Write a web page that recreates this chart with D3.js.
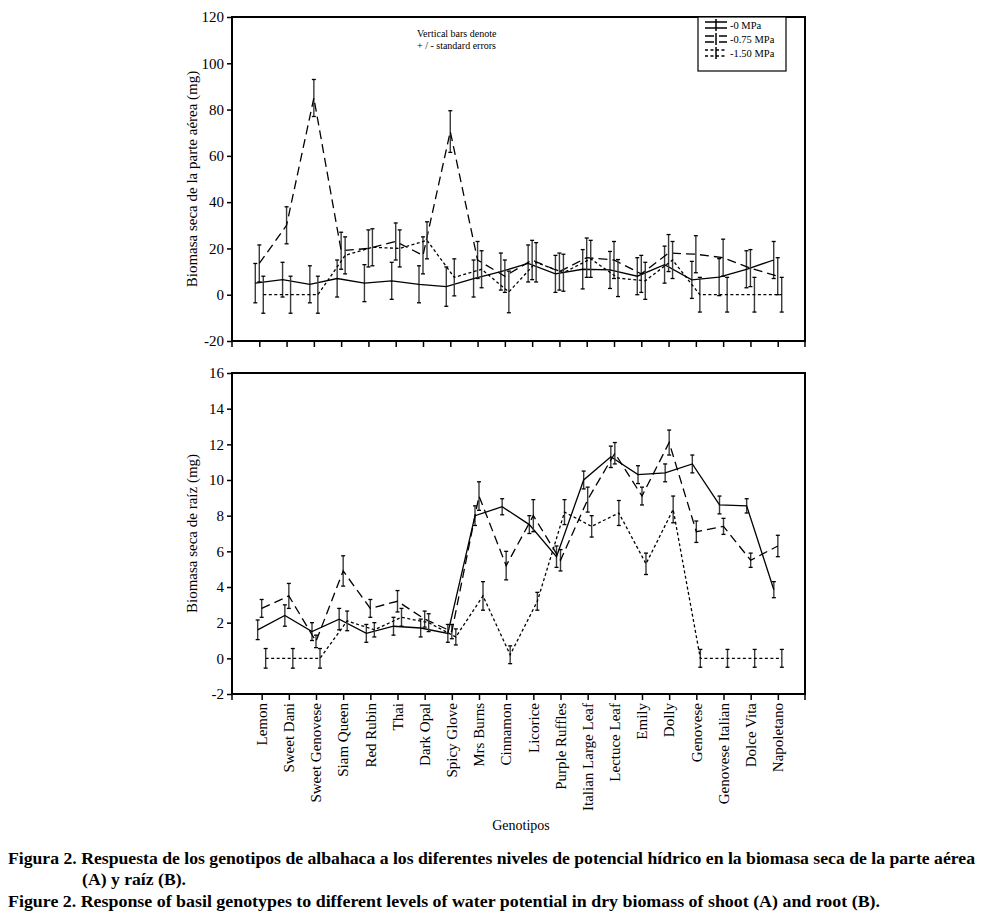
<!DOCTYPE html>
<html><head><meta charset="utf-8">
<script src="https://cdn.jsdelivr.net/npm/d3@7"></script>
<style>
body{margin:0;background:#fff}
svg{display:block}
text{font-family:"Liberation Serif","Times New Roman",serif;fill:#000}
</style>
</head><body>
<svg id="c" width="986" height="924"></svg>
<script>
// ---------------- DATA ----------------
const categories = ["Lemon","Sweet Dani","Sweet Genovese","Siam Queen","Red Rubin","Thai","Dark Opal","Spicy Glove","Mrs Burns","Cinnamon","Licorice","Purple Ruffles","Italian Large Leaf","Lectuce Leaf","Emily","Dolly","Genovese","Genovese Italian","Dolce Vita","Napoletano"];
const seriesNames = ["-0 MPa","-0.75 MPa","-1.50 MPa"];

// (A) shoot dry biomass (mg)
const shoot0   = [5, 6.5, 4.5, 7, 5, 6, 4.5, 3.5, 7, 10, 13.5, 9, 11, 10.7, 8, 13, 6.4, 7.6, 11, 15];
const shoot075 = [13.5, 30, 85, 19, 20, 23, 17, 70.5, 15, 8, 15, 10, 16, 15, 9, 18, 17.5, 16, 11.5, 8];
const shoot150 = [0, 0, 0, 17, 20.5, 20, 23.5, 7.5, 11, 1.2, 14, 9.5, 15.5, 7.2, 6, 15, 0, 0, 0, 0];
const shootSE0   = [8.5, 7.5, 8, 8, 8, 8, 8, 8.5, 8, 8, 8, 8, 8.5, 8, 8, 8, 8, 8, 8, 8];
const shootSE075 = [8, 8, 8, 8, 8, 8, 8, 9, 8, 7, 8.5, 8, 8.5, 8, 8, 8, 8, 8, 8, 8];
const shootSE150 = [8, 8, 8, 8, 8, 8, 8, 8, 8, 9, 8.5, 8, 8, 8, 8, 8, 7.5, 7.5, 7.5, 7.5];
const shootTicks = [-20, 0, 20, 40, 60, 80, 100, 120];

// (B) root dry biomass (mg)
const root0   = [1.6, 2.4, 1.5, 2.2, 1.4, 1.8, 1.7, 1.4, 8.0, 8.5, 7.5, 5.7, 10.0, 11.3, 10.3, 10.4, 10.9, 8.6, 8.55, 3.85];
const root075 = [2.8, 3.5, 0.95, 4.9, 2.8, 3.2, 2.2, 1.5, 9.1, 5.2, 8.0, 5.5, 8.9, 11.5, 9.1, 12.1, 7.1, 7.4, 5.5, 6.3];
const root150 = [0, 0, 0, 2.1, 1.6, 2.3, 2.0, 1.2, 3.5, 0.2, 3.2, 8.2, 7.4, 8.15, 5.3, 8.35, 0, 0, 0, 0];
const rootSE0   = [0.55, 0.6, 0.5, 0.6, 0.5, 0.5, 0.5, 0.5, 0.55, 0.45, 0.5, 0.6, 0.5, 0.6, 0.5, 0.5, 0.5, 0.5, 0.4, 0.45];
const rootSE075 = [0.5, 0.7, 0.35, 0.85, 0.5, 0.6, 0.45, 0.4, 0.8, 0.8, 0.9, 0.6, 0.7, 0.6, 0.5, 0.7, 0.6, 0.45, 0.4, 0.6];
const rootSE150 = [0.55, 0.55, 0.55, 0.55, 0.4, 0.5, 0.5, 0.45, 0.8, 0.5, 0.5, 0.7, 0.6, 0.7, 0.6, 0.75, 0.5, 0.5, 0.5, 0.5];
const rootTicks = [-2, 0, 2, 4, 6, 8, 10, 12, 14, 16];

const axisTitleA = "Biomasa seca de la parte aérea (mg)";
const axisTitleB = "Biomasa seca de raíz (mg)";
const xTitle = "Genotipos";
const noteLines = ["Vertical bars denote", "+ / - standard errors"];
const captionLines = [
  "Figura 2. Respuesta de los genotipos de albahaca a los diferentes niveles de potencial hídrico en la biomasa seca de la parte aérea",
  "(A) y raíz (B).",
  "Figure 2. Response of basil genotypes to different levels of water potential in dry biomass of shoot (A) and root (B)."
];

// ---------------- DRAW ----------------
const svg = d3.select("#c");
const dashes = [null, "9,5", "3,2.5"];
const offsets = [-4, 0, 4];

function panel(cfg) {
  const g = svg.append("g");
  const x = d3.scalePoint().domain(categories).range([cfg.x0, cfg.x1]).padding(1);
  const y = d3.scaleLinear().domain(cfg.domain).range([cfg.y1, cfg.y0]);

  // y axis
  const ya = g.append("g").attr("transform", `translate(${cfg.ax0},0)`)
    .call(d3.axisLeft(y).tickValues(cfg.ticks).tickSize(5).tickPadding(3).tickFormat(d => String(d)));
  ya.select(".domain").remove();
  ya.selectAll(".tick line").attr("stroke", "#000").attr("stroke-width", 1.5);
  ya.selectAll(".tick text").style("font-size", "15px").style("font-family", '"Liberation Serif",serif');

  // x axis ticks
  const xa = g.append("g").attr("transform", `translate(0,${cfg.y1})`)
    .call(d3.axisBottom(x).tickSize(6).tickSizeOuter(0).tickFormat(""));
  xa.select(".domain").remove();
  xa.selectAll(".tick line").attr("stroke", "#000").attr("stroke-width", 1.5);
  g.append("line").attr("x1", cfg.ax0).attr("x2", cfg.ax0).attr("y1", cfg.y1).attr("y2", cfg.y1 + 6).attr("stroke", "#000").attr("stroke-width", 1.5);
  g.append("line").attr("x1", cfg.ax1).attr("x2", cfg.ax1).attr("y1", cfg.y1).attr("y2", cfg.y1 + 6).attr("stroke", "#000").attr("stroke-width", 1.5);

  // series
  cfg.series.forEach((vals, si) => {
    const pts = vals.map((v, i) => ({c: categories[i], v, se: cfg.se[si][i]}));
    const px = d => x(d.c) + offsets[si];
    const eb = g.append("g");
    pts.forEach(d => {
      const xx = px(d), yt = y(d.v + d.se), yb = y(d.v - d.se);
      eb.append("line").attr("x1", xx).attr("x2", xx).attr("y1", yt).attr("y2", yb)
        .attr("stroke", "#3a3a3a").attr("stroke-width", 1.4);
      [yt, yb].forEach(yy => eb.append("line").attr("x1", xx - 2).attr("x2", xx + 2).attr("y1", yy).attr("y2", yy)
        .attr("stroke", "#000").attr("stroke-width", 1.3));
    });
    g.append("path").datum(pts)
      .attr("d", d3.line().x(px).y(d => y(d.v)))
      .attr("fill", "none").attr("stroke", "#000").attr("stroke-width", 1.3)
      .attr("stroke-dasharray", dashes[si]);
  });

  // frame
  g.append("rect").attr("x", cfg.ax0).attr("y", cfg.y0).attr("width", cfg.ax1 - cfg.ax0).attr("height", cfg.y1 - cfg.y0)
    .attr("fill", "none").attr("stroke", "#000").attr("stroke-width", 2);

  // y title
  g.append("text").attr("transform", `translate(${cfg.titleX},${(cfg.y0 + cfg.y1) / 2}) rotate(-90)`)
    .attr("text-anchor", "middle").style("font-size", "15px").text(cfg.title);
  return {g, x, y};
}

const A = panel({
  x0: 232, x1: 805, ax0: 232, ax1: 805, y0: 17, y1: 341, domain: [-20, 120], ticks: shootTicks,
  series: [shoot0, shoot075, shoot150], se: [shootSE0, shootSE075, shootSE150],
  title: axisTitleA, titleX: 197
});
const B = panel({
  x0: 234.5, x1: 805, ax0: 232, ax1: 805, y0: 373, y1: 694, domain: [-2, 16], ticks: rootTicks,
  series: [root0, root075, root150], se: [rootSE0, rootSE075, rootSE150],
  title: axisTitleB, titleX: 197
});

// x labels (bottom panel)
B.g.append("g").selectAll("text").data(categories).join("text")
  .attr("transform", d => `translate(${B.x(d)},703) rotate(-90)`)
  .attr("text-anchor", "end").attr("dy", "0.35em").style("font-size", "15px").text(d => d);
svg.append("text").attr("x", 521).attr("y", 830).attr("text-anchor", "middle").style("font-size", "14px").text(xTitle);

// note
noteLines.forEach((t, i) => svg.append("text").attr("x", 417).attr("y", 37 + i * 11.5).style("font-size", "10px").text(t));

// legend
const lg = svg.append("g");
lg.append("rect").attr("x", 698).attr("y", 17).attr("width", 88).attr("height", 54).attr("fill", "#fff").attr("stroke", "#000").attr("stroke-width", 1.2);
const legY = [25, 39, 53];
seriesNames.forEach((n, i) => {
  const yy = legY[i];
  [-3, 3].forEach(o => lg.append("line").attr("x1", 705).attr("x2", 727).attr("y1", yy + o).attr("y2", yy + o)
    .attr("stroke", "#000").attr("stroke-width", 1.5).attr("stroke-dasharray", dashes[i]));
  lg.append("line").attr("x1", 716).attr("x2", 716).attr("y1", yy - 6).attr("y2", yy + 6).attr("stroke", "#000").attr("stroke-width", 1.5);
  lg.append("text").attr("x", 730).attr("y", yy + 3.5).style("font-size", "10.5px").text(n);
});

// caption
const cap = svg.append("g").style("font-weight", "bold").style("font-size", "17px");
cap.append("text").attr("x", 8).attr("y", 864).attr("textLength", 967).attr("lengthAdjust", "spacingAndGlyphs").text(captionLines[0]);
cap.append("text").attr("x", 82).attr("y", 885).attr("textLength", 104).attr("lengthAdjust", "spacingAndGlyphs").text(captionLines[1]);
cap.append("text").attr("x", 8).attr("y", 907).attr("textLength", 872).attr("lengthAdjust", "spacingAndGlyphs").text(captionLines[2]);
</script>
</body></html>
